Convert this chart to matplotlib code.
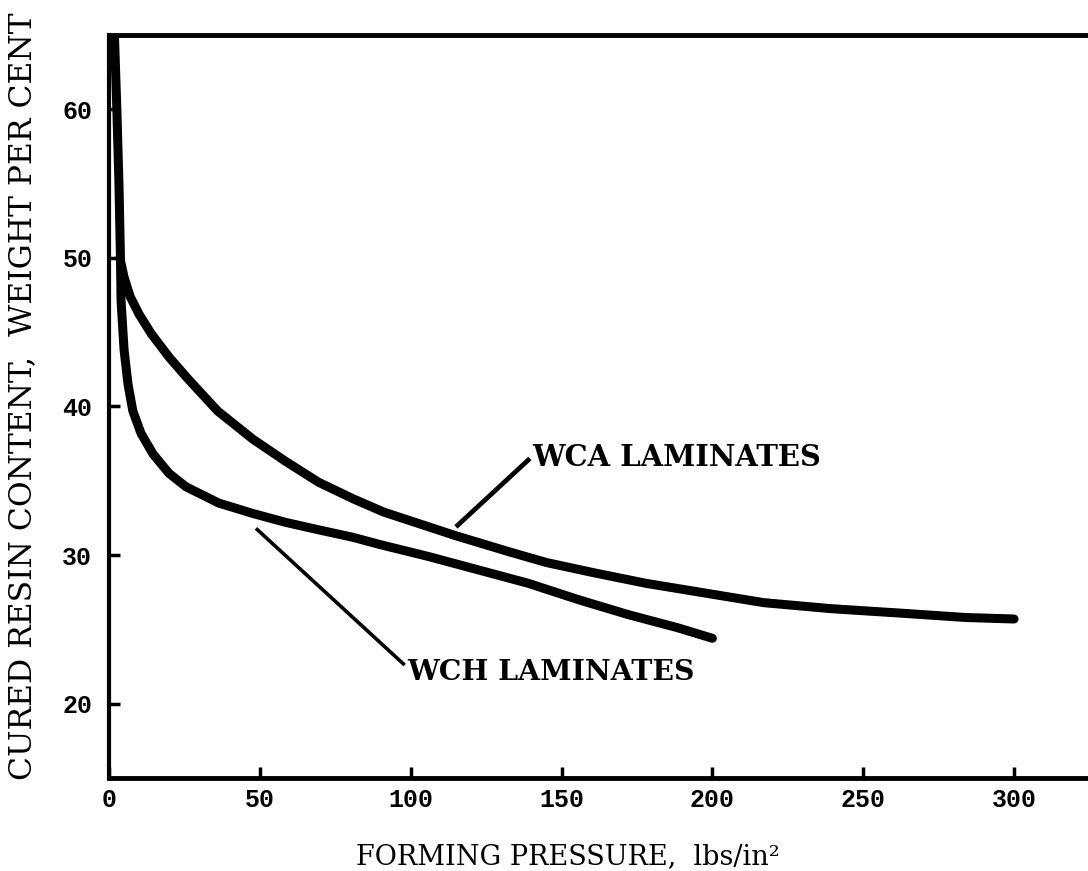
import matplotlib
matplotlib.use("Agg")
import matplotlib.pyplot as plt

# ---- data ----
wch_x = [1.8, 2.6, 3.3, 3.8, 4.0, 5.0, 6.3, 7.9, 10.6, 14.6, 19.9, 25.5, 36.4, 47.7,
         58.6, 69.5, 80.8, 90, 106, 122.5, 139, 155.6, 172, 188.7, 200]
wch_y = [65.0, 60.0, 55.0, 50.0, 47.1, 43.8, 41.5, 39.7, 38.2, 36.8, 35.5, 34.6, 33.5, 32.8,
         32.2, 31.7, 31.2, 30.7, 29.9, 29.0, 28.1, 27.0, 26.0, 25.1, 24.4]

wca_x = [3.6, 5.0, 7, 10, 14, 20, 26, 36, 47.7, 58.6, 69.5, 80.8, 91, 115, 133, 145,
         161, 178, 205, 217, 239, 262, 284, 300]
wca_y = [50.0, 48.7, 47.4, 46.2, 44.9, 43.3, 41.9, 39.7, 37.8, 36.3, 34.9, 33.8, 32.9, 31.3,
         30.2, 29.5, 28.8, 28.1, 27.2, 26.8, 26.4, 26.1, 25.8, 25.7]

# leader lines (from curve to label)
wca_leader_x = [115.0, 139.5]
wca_leader_y = [31.9, 36.5]
wch_leader_x = [48.7, 98.0]
wch_leader_y = [31.8, 22.6]

x_ticks = [0, 50, 100, 150, 200, 250, 300]
y_ticks = [20, 30, 40, 50, 60]
x_label = "FORMING PRESSURE,  lbs/in\u00b2"
y_label = "CURED RESIN CONTENT,  WEIGHT PER CENT"
wca_label = "WCA LAMINATES"
wch_label = "WCH LAMINATES"

W, H = 1088, 871
fig = plt.figure(figsize=(W / 100, H / 100), dpi=100)
ax = fig.add_axes([109 / W, 1 - 778 / H, 1 - 109 / W, (778 - 35) / H])
ax.set_xlim(0, 324.5)
ax.set_ylim(15, 65)

kw = dict(color="black", lw=6.5, solid_capstyle="round", solid_joinstyle="round")
ax.plot(wch_x, wch_y, **kw)
ax.plot(wca_x, wca_y, **kw)
ax.plot(wca_leader_x, wca_leader_y, color="black", lw=3.4, solid_capstyle="butt")
ax.plot(wch_leader_x, wch_leader_y, color="black", lw=2.6, solid_capstyle="butt")

t_wca = ax.text(140.3, 36.6, wca_label, fontsize=19, family="DejaVu Serif",
                fontweight="bold", ha="left", va="center")
t_wch = ax.text(99.0, 22.1, wch_label, fontsize=19, family="DejaVu Serif",
                fontweight="bold", ha="left", va="center")

ax.spines["right"].set_visible(False)
ax.spines["left"].set_linewidth(3)
ax.spines["bottom"].set_linewidth(3.5)
ax.spines["top"].set_linewidth(3.5)

ax.set_xticks(x_ticks)
ax.set_yticks(y_ticks)
ax.tick_params(direction="in", length=8, width=2.5, labelsize=18)
ax.tick_params(axis="y", pad=12)
ax.tick_params(axis="x", pad=7)
for lab in ax.get_xticklabels() + ax.get_yticklabels():
    lab.set_family("Liberation Mono")
    lab.set_fontweight("bold")

t_xl = fig.text(356 / W, 1 - 857 / H, x_label, fontsize=19.5, family="DejaVu Serif",
                ha="left", va="center")
t_yl = fig.text(23 / W, 1 - 396 / H, y_label, fontsize=21, family="DejaVu Serif",
                rotation=90, ha="center", va="center")

# fit text sizes to the measured extents in the reference
fig.canvas.draw()
r = fig.canvas.get_renderer()
def fit(t, target, horiz=True):
    bb = t.get_window_extent(r)
    cur = bb.width if horiz else bb.height
    t.set_fontsize(t.get_fontsize() * target / cur)
fit(t_wca, 289)
fit(t_wch, 287)
fit(t_yl, 767, horiz=False)

fig.savefig("out.png", dpi=100)
